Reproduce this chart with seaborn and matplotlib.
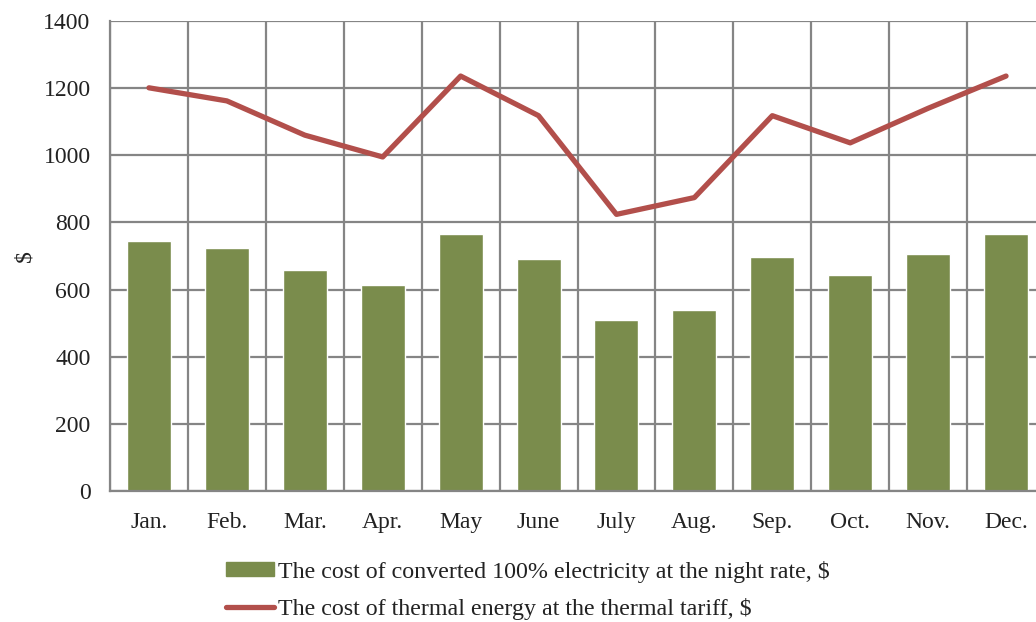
import numpy as np
import matplotlib
matplotlib.use("Agg")
import matplotlib.pyplot as plt
import seaborn as sns
from matplotlib.patches import Patch
from matplotlib.lines import Line2D

# data
months = ["Jan.", "Feb.", "Mar.", "Apr.", "May", "June",
          "July", "Aug.", "Sep.", "Oct.", "Nov.", "Dec."]
electricity_night = [746, 723, 657, 615, 766, 691, 508, 540, 696, 643, 705, 766]
thermal_tariff = [1201, 1162, 1060, 995, 1236, 1118, 824, 874, 1118, 1037, 1140, 1236]
yticks = [0, 200, 400, 600, 800, 1000, 1200, 1400]

label_bar = "The cost of converted 100% electricity at the night rate, $"
label_line = "The cost of thermal energy at the thermal tariff, $"

BAR_COLOR = "#7a8c4c"
LINE_COLOR = "#b24f4b"
GRID_COLOR = "#858585"

sns.set_style("white")
plt.rcParams["font.family"] = ["Liberation Serif", "DejaVu Serif"]

fig = plt.figure(figsize=(10.36, 6.22), dpi=100)
ax = fig.add_axes([110 / 1036, 131 / 622, 935 / 1036, 470 / 622])

sns.barplot(x=months, y=electricity_night, color=BAR_COLOR, width=0.565,
            saturation=1, ax=ax, zorder=2)
sns.lineplot(x=np.arange(len(months)), y=thermal_tariff, color=LINE_COLOR,
             linewidth=3.8, ax=ax, zorder=3)

ax.set_xlim(-0.5, len(months) - 0.5)
ax.set_ylim(0, 1400)
ax.set_yticks(yticks)
ax.set_xticks(np.arange(len(months)))
ax.set_xticklabels(months)
ax.set_xticks(np.arange(len(months) + 1) - 0.5, minor=True)

ax.grid(axis="y", which="major", color=GRID_COLOR, linewidth=1.6, zorder=0)
ax.grid(axis="x", which="minor", color=GRID_COLOR, linewidth=1.6, zorder=0)
ax.grid(axis="x", which="major", visible=False)
ax.set_axisbelow(True)

for side in ["top", "right"]:
    ax.spines[side].set_visible(False)
for side in ["left", "bottom"]:
    ax.spines[side].set_color(GRID_COLOR)
    ax.spines[side].set_linewidth(1.6)

ax.tick_params(axis="both", which="both", length=0, labelsize=17,
               colors="#222222")
ax.tick_params(axis="x", pad=15)
ax.tick_params(axis="y", pad=14)
ax.set_ylabel("$", fontsize=17, color="#222222", labelpad=6)
ax.set_xlabel("")

handles = [Patch(facecolor=BAR_COLOR, edgecolor=BAR_COLOR),
           Line2D([0], [0], color=LINE_COLOR, linewidth=3.8)]
fig.legend(handles, [label_bar, label_line], loc="upper left",
           bbox_to_anchor=(216 / 1036, 1 - 551 / 622), frameon=False,
           prop={"size": 17.3}, handlelength=2.0, handleheight=0.55,
           handletextpad=0.2, labelspacing=0.62, borderaxespad=0,
           labelcolor="#222222")

fig.savefig("out.png", dpi=100)
